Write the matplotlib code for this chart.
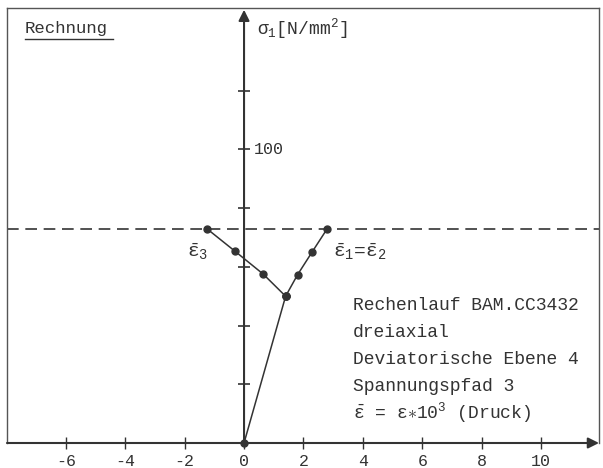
import numpy as np
import matplotlib
matplotlib.use("Agg")
import matplotlib.pyplot as plt

plt.rcParams['font.family'] = 'Liberation Mono'
plt.rcParams['mathtext.fontset'] = 'custom'
plt.rcParams['mathtext.rm'] = 'Liberation Mono'
plt.rcParams['mathtext.it'] = 'Liberation Mono'
plt.rcParams['mathtext.bf'] = 'Liberation Mono:bold'

INK = '#333333'

# strain (x 10^3) and stress sigma_1 [N/mm^2]
eps_load = [0.0, 1.4]
sig_load = [0.0, 50.0]
eps_3 = [1.4, 0.65, -0.3, -1.25]
sig_3 = [50.0, 57.5, 65.3, 73.0]
eps_12 = [1.4, 1.8, 2.3, 2.8]
sig_12 = [50.0, 57.3, 65.2, 73.0]
sig_limit = 73.0

x_ticks = [-6, -4, -2, 0, 2, 4, 6, 8, 10]
x_labels = ['-6', '-4', '-2', '0', '2', '4', '6', '8', '10']
y_ticks = [20, 40, 60, 80, 100, 120]

info_lines = ['Rechenlauf BAM.CC3432',
              'dreiaxial',
              'Deviatorische Ebene 4',
              'Spannungspfad 3',
              r'$\bar{\varepsilon}$ = $\varepsilon$$\ast$10$^3$ (Druck)']

fig = plt.figure(figsize=(6.03, 4.68), dpi=100)
ax = fig.add_axes([7 / 603, 25 / 468, 592 / 603, 435 / 468])
ax.set_xlim(-7.98, 11.95)
ax.set_ylim(0, 148.2)

for s in ['left', 'top', 'right']:
    ax.spines[s].set_color('#555555')
    ax.spines[s].set_linewidth(1.0)
ax.spines['bottom'].set_visible(False)

ax.set_xticks(x_ticks)
ax.set_xticklabels(x_labels)
ax.tick_params(axis='x', direction='inout', length=8, width=1.0, color=INK,
               labelsize=12, labelcolor=INK, pad=4)
ax.set_yticks([])

# axes with arrow heads
ax.annotate('', xy=(1.0, 0.0), xytext=(0.0, 0.0), xycoords='axes fraction',
            arrowprops=dict(arrowstyle='-|>', color=INK, lw=1.5,
                            mutation_scale=16, shrinkA=0, shrinkB=0),
            annotation_clip=False)
ax.annotate('', xy=(0, 147.6), xytext=(0, 0),
            arrowprops=dict(arrowstyle='-|>', color=INK, lw=1.5,
                            mutation_scale=16, shrinkA=0, shrinkB=0),
            annotation_clip=False)
ax.plot(np.zeros(len(y_ticks)), y_ticks, ls='none', marker='_', ms=8,
        mew=1.2, color=INK)
ax.annotate('100', (0, 100), xytext=(7, 0), textcoords='offset points',
            va='center', ha='left', fontsize=12, color=INK)

# limit line
ax.axhline(sig_limit, color=INK, lw=1.2, ls=(0, (7, 4)))

# stress path
ax.plot(eps_load, sig_load, color=INK, lw=1.1, marker='o', ms=5,
        clip_on=False, zorder=5)
ax.plot(eps_3, sig_3, color=INK, lw=1.1, marker='o', ms=5)
ax.plot(eps_12, sig_12, color=INK, lw=1.1, marker='o', ms=5)

ax.annotate(r'$\bar{\varepsilon}_3$', (eps_3[-1], sig_3[-1]), xytext=(-14, -9),
            textcoords='offset points', ha='left', va='top', fontsize=14,
            color=INK)
ax.annotate(r'$\bar{\varepsilon}_1$=$\bar{\varepsilon}_2$', (eps_12[-1], sig_12[-1]),
            xytext=(4, -9), textcoords='offset points', ha='left', va='top',
            fontsize=14, color=INK)

# labels
ax.text(0.030, 0.954, 'Rechnung', transform=ax.transAxes, ha='left',
        va='center', fontsize=12.5, color=INK)
ax.plot([0.030, 0.179], [0.928, 0.928], transform=ax.transAxes, color=INK,
        lw=1.0, clip_on=False)
ax.text(0.422, 0.952, r'$\sigma_1$[N/mm$^2$]', transform=ax.transAxes,
        ha='left', va='center', fontsize=13, color=INK)

for i, line in enumerate(info_lines):
    ax.text(0.584, 0.317 - i * 0.062, line, transform=ax.transAxes,
            ha='left', va='center', fontsize=13, color=INK)

fig.savefig('out.png', dpi=100)
